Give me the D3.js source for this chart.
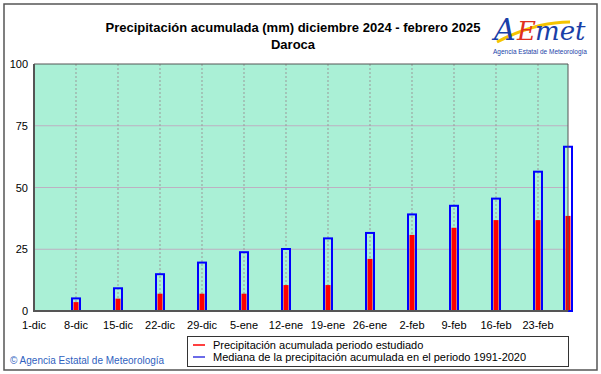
<!DOCTYPE html>
<html>
<head>
<meta charset="utf-8">
<script src="https://cdn.jsdelivr.net/npm/d3@7"></script>
<style>
  body { margin: 0; background: #fff; }
  svg { display: block; font-family: "Liberation Sans", Arial, sans-serif; }
</style>
</head>
<body>
<svg id="chart" width="601" height="374"></svg>
<script>
// weekly ticks on the x axis
const tickDates = ["2024-12-01","2024-12-08","2024-12-15","2024-12-22","2024-12-29","2025-01-05",
  "2025-01-12","2025-01-19","2025-01-26","2025-02-02","2025-02-09","2025-02-16","2025-02-23"];
const tickLabels = ["1-dic","8-dic","15-dic","22-dic","29-dic","5-ene","12-ene","19-ene","26-ene",
  "2-feb","9-feb","16-feb","23-feb"];
// bar dates
const barDates = ["2024-12-08","2024-12-15","2024-12-22","2024-12-29","2025-01-05","2025-01-12",
  "2025-01-19","2025-01-26","2025-02-02","2025-02-09","2025-02-16","2025-02-23","2025-02-28"];
// median 1991-2020 accumulated (blue) and observed accumulated (red), mm
const median = [5.1, 9.2, 14.9, 19.6, 23.8, 25.1, 29.4, 31.6, 39.1, 42.6, 45.5, 56.4, 66.5];
const observed = [3.6, 5.0, 7.0, 7.0, 7.0, 10.5, 10.5, 21.1, 30.8, 33.7, 36.8, 36.8, 38.5];
const yTicks = [0, 25, 50, 75, 100];

const parse = d3.utcParse("%Y-%m-%d");
const svg = d3.select("#chart");
const margin = {left: 34, right: 568, top: 64, bottom: 311};

const x = d3.scaleUtc()
  .domain([parse("2024-12-01"), parse("2025-02-28")])
  .range([margin.left, margin.right]);
const y = d3.scaleLinear().domain([0, 100]).range([margin.bottom, margin.top]);

// outer frame
svg.append("rect")
  .attr("x", 4).attr("y", 4).attr("width", 593).attr("height", 366)
  .attr("fill", "none").attr("stroke", "#555").attr("stroke-width", 1.5);

// title
svg.append("text")
  .attr("x", 293).attr("y", 32)
  .attr("text-anchor", "middle")
  .attr("font-size", 13).attr("font-weight", "bold")
  .text("Precipitación acumulada (mm) diciembre 2024 - febrero 2025");
svg.append("text")
  .attr("x", 293).attr("y", 49)
  .attr("text-anchor", "middle")
  .attr("font-size", 13).attr("font-weight", "bold")
  .text("Daroca");

// logo
const logo = svg.append("g");
logo.append("path")
  .attr("d", "M497,42 C520,30 545,22 570,22")
  .attr("fill", "none").attr("stroke", "#f5c400").attr("stroke-width", 3);
logo.append("text")
  .attr("x", 494).attr("y", 40)
  .attr("font-size", 30).attr("font-style", "italic")
  .attr("font-family", "'DejaVu Serif', serif")
  .attr("fill", "#1a3fa8")
  .text("A");
logo.append("text")
  .attr("x", 517).attr("y", 40)
  .attr("font-size", 26).attr("font-style", "italic")
  .attr("font-family", "'DejaVu Serif', serif")
  .attr("fill", "#e03020")
  .text("E");
logo.append("text")
  .attr("x", 535).attr("y", 40)
  .attr("font-size", 26).attr("font-style", "italic")
  .attr("font-family", "'DejaVu Serif', serif")
  .attr("fill", "#1a3fa8")
  .text("met");
logo.append("text")
  .attr("x", 540).attr("y", 54)
  .attr("text-anchor", "middle")
  .attr("font-size", 6.5)
  .attr("fill", "#1a3fa8")
  .text("Agencia Estatal de Meteorología");

// plot background
svg.append("rect")
  .attr("x", margin.left).attr("y", margin.top)
  .attr("width", margin.right - margin.left).attr("height", margin.bottom - margin.top)
  .attr("fill", "#aaf0d6");

// horizontal grid
svg.append("g")
  .selectAll("line")
  .data(yTicks.filter(d => d > 0 && d < 100))
  .join("line")
  .attr("x1", margin.left).attr("x2", margin.right)
  .attr("y1", d => y(d)).attr("y2", d => y(d))
  .attr("stroke", "#bdb0c2").attr("stroke-width", 1);

// vertical dashed grid
svg.append("g")
  .selectAll("line")
  .data(tickDates.slice(1))
  .join("line")
  .attr("x1", d => x(parse(d))).attr("x2", d => x(parse(d)))
  .attr("y1", margin.top).attr("y2", margin.bottom)
  .attr("stroke", "#999").attr("stroke-width", 1)
  .attr("stroke-dasharray", "2,2");

// bars: median outline (blue) and observed (red)
const bars = svg.append("g");
bars.selectAll("rect.obs")
  .data(observed)
  .join("rect")
  .attr("class", "obs")
  .attr("x", (d, i) => x(parse(barDates[i])) - 2.5)
  .attr("width", 5)
  .attr("y", d => y(d))
  .attr("height", d => y(0) - y(d))
  .attr("fill", "#ff0000");
bars.selectAll("rect.med")
  .data(median)
  .join("rect")
  .attr("class", "med")
  .attr("x", (d, i) => x(parse(barDates[i])) - 4)
  .attr("width", 8)
  .attr("y", d => y(d))
  .attr("height", d => y(0) - y(d))
  .attr("fill", "none")
  .attr("stroke", "#0000ff").attr("stroke-width", 2);

// axes lines
svg.append("line")
  .attr("x1", margin.left).attr("x2", margin.left)
  .attr("y1", margin.top).attr("y2", margin.bottom + 1)
  .attr("stroke", "#555").attr("stroke-width", 2);
svg.append("line")
  .attr("x1", margin.left).attr("x2", margin.right)
  .attr("y1", margin.bottom).attr("y2", margin.bottom)
  .attr("stroke", "#555").attr("stroke-width", 2);
svg.append("line")
  .attr("x1", margin.left).attr("x2", margin.right)
  .attr("y1", margin.top).attr("y2", margin.top)
  .attr("stroke", "#555").attr("stroke-width", 1);
svg.append("line")
  .attr("x1", margin.right).attr("x2", margin.right)
  .attr("y1", margin.top).attr("y2", margin.bottom)
  .attr("stroke", "#555").attr("stroke-width", 1);

// y tick labels
svg.append("g")
  .selectAll("text")
  .data(yTicks)
  .join("text")
  .attr("x", 28).attr("y", d => y(d) + 4)
  .attr("text-anchor", "end")
  .attr("font-size", 11)
  .text(d => d);

// x tick labels
svg.append("g")
  .selectAll("text")
  .data(tickDates)
  .join("text")
  .attr("x", d => x(parse(d)))
  .attr("y", 329)
  .attr("text-anchor", "middle")
  .attr("font-size", 11)
  .text((d, i) => tickLabels[i]);

// legend
const legend = svg.append("g");
legend.append("rect")
  .attr("x", 187.5).attr("y", 336.5).attr("width", 381).attr("height", 30)
  .attr("fill", "#fff").attr("stroke", "#333").attr("stroke-width", 1);
const legendItems = [
  {color: "#ff0000", label: "Precipitación acumulada periodo estudiado"},
  {color: "#3a3ae0", label: "Mediana de la precipitación acumulada en el periodo 1991-2020"}
];
legendItems.forEach((item, i) => {
  legend.append("line")
    .attr("x1", 193).attr("x2", 205)
    .attr("y1", 345 + i * 12).attr("y2", 345 + i * 12)
    .attr("stroke", item.color).attr("stroke-width", 1.5);
  legend.append("text")
    .attr("x", 213).attr("y", 349 + i * 12)
    .attr("font-size", 11)
    .text(item.label);
});

// copyright
svg.append("text")
  .attr("x", 10).attr("y", 364)
  .attr("font-size", 10)
  .attr("fill", "#2f5fc0")
  .text("© Agencia Estatal de Meteorología");
</script>
</body>
</html>
